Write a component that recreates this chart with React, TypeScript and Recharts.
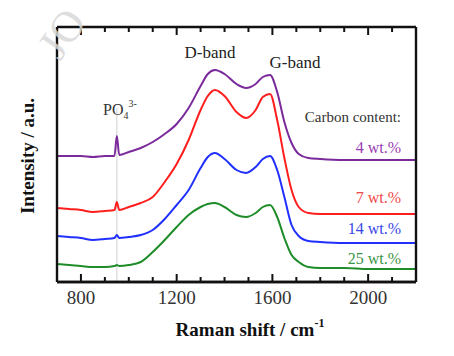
import React from "react";
import { LineChart, Line, XAxis, YAxis, ReferenceLine } from "recharts";

// Raman shift (cm^-1)
const ramanShift = [700, 750, 800, 850, 900, 940, 950, 960, 1000, 1050, 1100, 1150, 1200, 1250, 1300, 1330, 1360, 1400, 1450, 1490, 1530, 1560, 1590, 1620, 1650, 1680, 1710, 1750, 1800, 1900, 2000, 2100, 2200];

// Intensity (a.u., offset traces)
const wt4 = [125, 125, 125, 124, 125, 125, 145, 126, 129, 133, 139, 147, 157, 173, 195, 207, 211, 207, 197, 193, 197, 204, 206, 189, 159, 138, 127, 123, 122, 121, 121, 121, 121];
const wt7 = [73, 72, 71, 69, 70, 71, 79, 71, 74, 78, 84, 99, 117, 141, 171, 185, 191, 185, 169, 163, 171, 184, 187, 161, 123, 91, 74, 68, 67, 67, 67, 67, 67];
const wt14 = [45, 44, 43, 41, 42, 43, 46, 43, 44, 46, 51, 62, 76, 91, 113, 124, 128, 122, 111, 108, 114, 122, 125, 111, 84, 56, 45, 40, 39, 38, 38, 38, 38];
const wt25 = [17, 16, 15, 14, 14, 15, 16, 15, 16, 19, 29, 41, 54, 66, 74, 77, 78, 74, 66, 64, 68, 74, 76, 64, 43, 26, 19, 14, 13, 13, 12, 12, 12];

const minorTicks = [900, 1000, 1100, 1300, 1400, 1500, 1700, 1800, 1900, 2100];
const majorTicks = [800, 1200, 1600, 2000];

const data = ramanShift.map((x, i) => ({ x, wt4: wt4[i], wt7: wt7[i], wt14: wt14[i], wt25: wt25[i] }));

const FONT = "'Liberation Serif', 'DejaVu Serif', serif";
const C_PURPLE = "#7a2a9a";
const C_RED = "#ff1e1e";
const C_BLUE = "#2030ff";
const C_GREEN = "#1e8c28";
const FRAME = "#111";
const X_MIN = 700;
const X_MAX = 2200;
const Y_MIN = -1;
const Y_MAX = 254;
const MAJOR_LEN = 8;
const MINOR_LEN = 5;

const allTicks = [...majorTicks, ...minorTicks].sort((a, b) => a - b);
const tickLen = (t: number) => (majorTicks.includes(t) ? MAJOR_LEN : MINOR_LEN);

export default function App() {
  return (
    <div style={{ position: "absolute", left: 0, top: 0, width: 454, height: 356, background: "#fff" }}>
      <LineChart width={454} height={356} data={data} margin={{ top: 27, right: 38, left: 57, bottom: 34 }}>
        <XAxis
          dataKey="x"
          type="number"
          domain={[X_MIN, X_MAX]}
          ticks={majorTicks}
          interval={0}
          allowDataOverflow
          height={40}
          tickSize={0}
          tickMargin={9}
          axisLine={{ stroke: FRAME, strokeWidth: 2.4 }}
          tickLine={false}
          tick={{ fontFamily: FONT, fontSize: 19, fill: "#333" }}
        />
        <YAxis hide type="number" domain={[Y_MIN, Y_MAX]} allowDataOverflow />
        <ReferenceLine
          segment={[{ x: 950, y: Y_MIN }, { x: 950, y: 173 }]}
          stroke="#cfcfcf"
          strokeWidth={1}
        />
        {allTicks.map((t) => (
          <ReferenceLine
            key={`b${t}`}
            ifOverflow="visible"
            segment={[{ x: t, y: Y_MIN }, { x: t, y: Y_MIN + tickLen(t) }]}
            stroke={FRAME}
            strokeWidth={2}
          />
        ))}
        {allTicks.map((t) => (
          <ReferenceLine
            key={`t${t}`}
            ifOverflow="visible"
            segment={[{ x: t, y: Y_MAX }, { x: t, y: Y_MAX - tickLen(t) }]}
            stroke={FRAME}
            strokeWidth={2}
          />
        ))}
        <Line type="monotone" dataKey="wt25" stroke={C_GREEN} strokeWidth={2} dot={false} isAnimationActive={false} />
        <Line type="monotone" dataKey="wt14" stroke={C_BLUE} strokeWidth={2} dot={false} isAnimationActive={false} />
        <Line type="monotone" dataKey="wt7" stroke={C_RED} strokeWidth={2} dot={false} isAnimationActive={false} />
        <Line type="monotone" dataKey="wt4" stroke={C_PURPLE} strokeWidth={2} dot={false} isAnimationActive={false} />
        <ReferenceLine x={X_MIN} stroke={FRAME} strokeWidth={2.4} />
        <ReferenceLine x={X_MAX} stroke={FRAME} strokeWidth={2.4} />
        <ReferenceLine y={Y_MAX} stroke={FRAME} strokeWidth={2.4} />
        <ReferenceLine y={Y_MIN} stroke={FRAME} strokeWidth={2.4} />
      </LineChart>
      <svg
        width={454}
        height={356}
        style={{ position: "absolute", left: 0, top: 0, pointerEvents: "none" }}
      >
        <text x={60} y={62} fontFamily={FONT} fontSize={44} fill="#d9d9d9" fillOpacity={0.85} transform="rotate(-55 60 62)">
          JO
        </text>
        <text x={210} y={58} textAnchor="middle" fontFamily={FONT} fontSize={17} fill="#222">D-band</text>
        <text x={295} y={68} textAnchor="middle" fontFamily={FONT} fontSize={17} fill="#222">G-band</text>
        <text x={103} y={115} fontFamily={FONT} fontSize={16} fill="#333">
          PO<tspan fontSize={10} dy={4}>4</tspan><tspan fontSize={10} dy={-12}>3-</tspan>
        </text>
        <text x={401} y={122} textAnchor="end" fontFamily={FONT} fontSize={15} fill="#333">Carbon content:</text>
        <text x={401} y={153} textAnchor="end" fontFamily={FONT} fontSize={16} fill="#9a3cb4">4 wt.%</text>
        <text x={401} y={203} textAnchor="end" fontFamily={FONT} fontSize={16} fill="#f04848">7 wt.%</text>
        <text x={401} y={234} textAnchor="end" fontFamily={FONT} fontSize={16} fill="#3846e6">14 wt.%</text>
        <text x={401} y={264} textAnchor="end" fontFamily={FONT} fontSize={16} fill="#3c9446">25 wt.%</text>
        <text x={250} y={336} textAnchor="middle" fontFamily={FONT} fontSize={19} fontWeight="bold" fill="#111">
          Raman shift / cm<tspan fontSize={12} dy={-9}>-1</tspan>
        </text>
        <text
          x={30}
          y={156}
          textAnchor="middle"
          fontFamily={FONT}
          fontSize={19}
          fontWeight="bold"
          fill="#111"
          transform="rotate(-90 30 156)"
          dominantBaseline="middle"
        >
          Intensity / a.u.
        </text>
      </svg>
    </div>
  );
}
